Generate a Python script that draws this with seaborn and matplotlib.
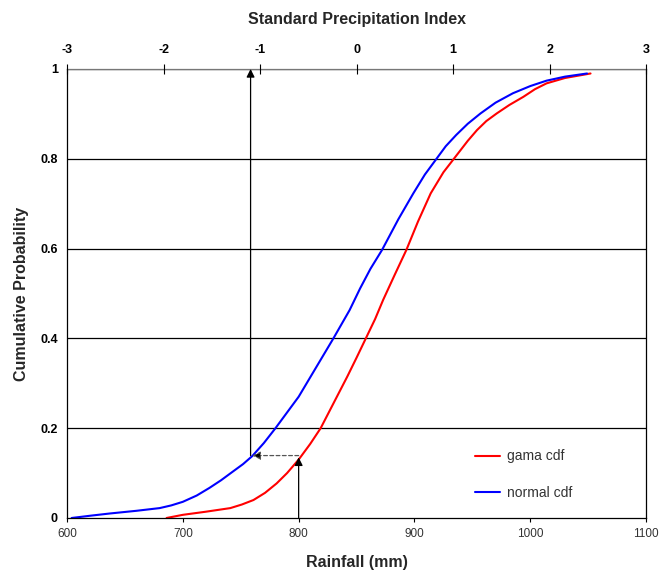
import matplotlib
matplotlib.use('Agg')
import matplotlib.pyplot as plt
import seaborn as sns
import pandas as pd
from matplotlib.lines import Line2D
from matplotlib.ticker import FuncFormatter

# Valores
normal_x = [604, 620, 637, 660, 680, 690, 700, 712, 723, 733, 743, 752, 760,
            770, 780, 790, 800, 815, 830, 844, 853, 862, 872, 886, 899, 909,
            919, 927, 936, 946, 957, 970, 985, 1000, 1014, 1030, 1049]
normal_y = [0.0, 0.005, 0.01, 0.016, 0.022, 0.028, 0.036, 0.05, 0.067, 0.084,
            0.103, 0.12, 0.138, 0.167, 0.2, 0.235, 0.27, 0.335, 0.4, 0.463,
            0.511, 0.555, 0.597, 0.665, 0.723, 0.765, 0.8, 0.828, 0.853, 0.878,
            0.901, 0.925, 0.946, 0.962, 0.974, 0.983, 0.99]

gama_x = [686, 700, 720, 741, 751, 761, 771, 781, 790, 800, 810, 819, 830,
          842, 850, 858, 866, 873, 883, 893, 903, 914, 925, 937, 946, 954,
          962, 971, 982, 994, 1004, 1014, 1030, 1052]
gama_y = [0.0, 0.007, 0.014, 0.022, 0.03, 0.04, 0.056, 0.077, 0.1, 0.13,
          0.165, 0.2, 0.255, 0.315, 0.357, 0.4, 0.443, 0.486, 0.542, 0.597,
          0.66, 0.723, 0.77, 0.81, 0.84, 0.864, 0.884, 0.901, 0.92, 0.938,
          0.955, 0.968, 0.98, 0.99]

series_labels = ['gama cdf', 'normal cdf']
cores = {'gama cdf': '#ff0000', 'normal cdf': '#0000ff'}

rain_ticks = [600, 700, 800, 900, 1000, 1100]
spi_ticks = [-3, -2, -1, 0, 1, 2, 3]
prob_ticks = [0, 0.2, 0.4, 0.6, 0.8, 1.0]

# Exemplo: chuva observada -> probabilidade -> chuva equivalente
chuva_obs = 800
prob_obs = 0.139
chuva_eq = 760

df = pd.concat([
    pd.DataFrame({'Rainfall': gama_x, 'prob': gama_y, 'serie': 'gama cdf'}),
    pd.DataFrame({'Rainfall': normal_x, 'prob': normal_y, 'serie': 'normal cdf'}),
])

sns.set_style('white')
plt.rcParams['font.family'] = ['Liberation Sans', 'DejaVu Sans']
plt.rcParams['axes.unicode_minus'] = False

fig = plt.figure(figsize=(6.6, 5.74), dpi=100)
ax = fig.add_axes([0.1015, 0.0976, 0.8775, 0.7822])

sns.lineplot(data=df, x='Rainfall', y='prob', hue='serie', palette=cores,
             hue_order=series_labels, lw=1.5, ax=ax, legend=False)

ax.set_xlim(600, 1100)
ax.set_ylim(0, 1)
ax.set_xticks(rain_ticks)
ax.set_yticks(prob_ticks)
ax.yaxis.set_major_formatter(FuncFormatter(lambda v, p: '%g' % v))
for v in prob_ticks[1:]:
    ax.axhline(v, color='black', lw=0.9, zorder=0)

for s in ax.spines.values():
    s.set_color('black')
    s.set_linewidth(0.9)
ax.spines['top'].set_color('#777777')

ax.tick_params(axis='x', direction='out', length=3, width=0.8, labelsize=8.5,
               colors='black', labelcolor='#333333', pad=4)
ax.tick_params(axis='y', direction='inout', length=7, width=0.8, labelsize=9,
               colors='black', pad=3)
for t in ax.get_yticklabels():
    t.set_fontweight('bold')

ax.set_xlabel('Rainfall (mm)', fontsize=11.5, fontweight='bold', labelpad=11)
ax.set_ylabel('Cumulative Probability', fontsize=11.5, fontweight='bold', labelpad=8)

# Eixo superior: SPI
ax2 = ax.twiny()
ax2.set_xlim(-3, 3)
ax2.set_xticks(spi_ticks)
ax2.tick_params(axis='x', direction='inout', length=7, width=0.8, labelsize=9,
                colors='black', pad=6)
for t in ax2.get_xticklabels():
    t.set_fontweight('bold')
ax2.set_xlabel('Standard Precipitation Index', fontsize=11.5, fontweight='bold', labelpad=14)
for s in ax2.spines.values():
    s.set_visible(False)

# Setas
seta = dict(arrowstyle='-|>', color='black', lw=0.9, mutation_scale=12,
            shrinkA=0, shrinkB=0)
ax.annotate('', xy=(chuva_obs, prob_obs - 0.004), xytext=(chuva_obs, 0),
            arrowprops=seta)
ax.annotate('', xy=(chuva_eq, prob_obs), xytext=(chuva_obs, prob_obs),
            arrowprops=dict(seta, linestyle=(0, (3, 2)), ec='#555555', fc='black'))
ax.annotate('', xy=(chuva_eq - 1.5, 1.0), xytext=(chuva_eq - 1.5, prob_obs),
            arrowprops=seta)

handles = [Line2D([], [], color=cores[s], lw=1.5) for s in series_labels]
ax.legend(handles, series_labels, loc='upper left', bbox_to_anchor=(0.695, 0.165),
          frameon=False, fontsize=10, labelspacing=1.6, handlelength=1.8,
          handletextpad=0.5, borderaxespad=0, labelcolor='#333333')

fig.savefig('out.png', dpi=100)
